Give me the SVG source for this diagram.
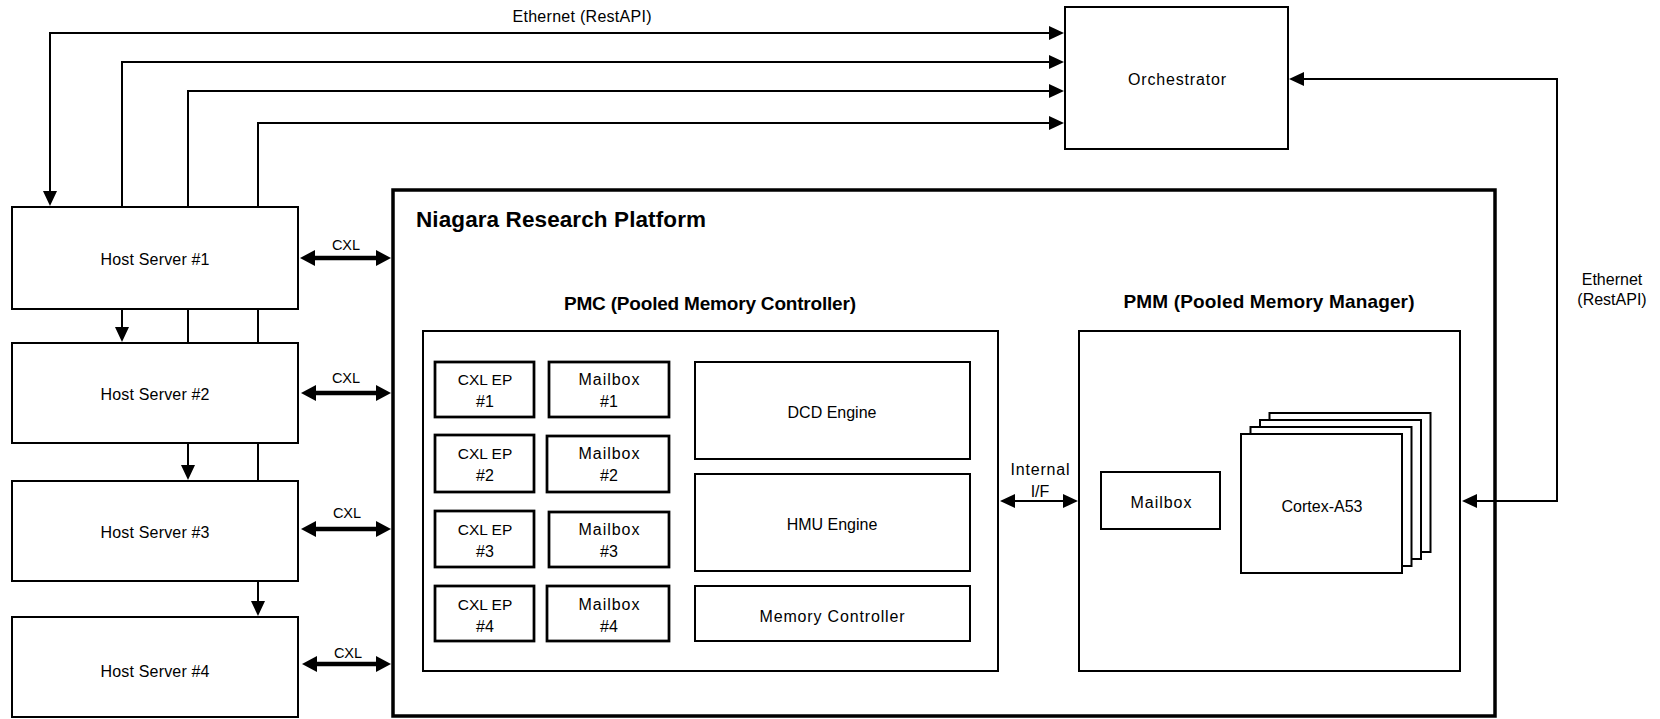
<svg xmlns="http://www.w3.org/2000/svg" width="1660" height="719" viewBox="0 0 1660 719">
  <defs>
    <style>
      .box{fill:#fff;stroke:#000;stroke-width:2}
      .sm{fill:#fff;stroke:#000;stroke-width:2.75}
      .frame{fill:none;stroke:#000;stroke-width:3.5}
      .wire{fill:none;stroke:#000;stroke-width:2;stroke-linejoin:miter}
      .cxl{fill:none;stroke:#000;stroke-width:4.5}
      text{font-family:'Liberation Sans',Arial,sans-serif;font-size:16px;fill:#000;text-anchor:middle}
      .title{font-weight:bold;font-size:22.5px;text-anchor:start}
      .sub{font-weight:bold;font-size:19px}
      .lbl{font-size:14.5px}
      .ep{font-size:15.5px}
    </style>
    <marker id="arr" markerUnits="userSpaceOnUse" markerWidth="15" markerHeight="14" refX="12" refY="7" orient="auto-start-reverse">
      <path d="M0,0 L15,7 L0,14 Z" fill="#000"/>
    </marker>
    <marker id="arrCxl" markerUnits="userSpaceOnUse" markerWidth="15" markerHeight="16" refX="5" refY="8" orient="auto-start-reverse">
      <path d="M0,0 L15,8 L0,16 Z" fill="#000"/>
    </marker>
  </defs>

  <rect width="1660" height="719" fill="#fff"/>

  <!-- platform frame -->
  <g id="niagara">
    <rect class="frame" x="393" y="190" width="1102" height="526"/>
    <text class="title" x="416" y="227" textLength="290">Niagara Research Platform</text>
  </g>

  <!-- connectors -->
  <g id="connectors">
    <path class="wire" d="M50,203 V33 H1061" marker-start="url(#arr)" marker-end="url(#arr)"/>
    <path class="wire" d="M122,339 V62 H1061" marker-start="url(#arr)" marker-end="url(#arr)"/>
    <path class="wire" d="M188,477 V91 H1061" marker-start="url(#arr)" marker-end="url(#arr)"/>
    <path class="wire" d="M258,613 V123 H1061" marker-start="url(#arr)" marker-end="url(#arr)"/>
    <path class="wire" d="M1465,501 H1557 V79 H1292" marker-start="url(#arr)" marker-end="url(#arr)"/>
    <path class="wire" d="M1003,501 H1075" marker-start="url(#arr)" marker-end="url(#arr)"/>
    <path class="cxl" d="M310,258 H381" marker-start="url(#arrCxl)" marker-end="url(#arrCxl)"/>
    <path class="cxl" d="M311,393 H381" marker-start="url(#arrCxl)" marker-end="url(#arrCxl)"/>
    <path class="cxl" d="M311,529 H381" marker-start="url(#arrCxl)" marker-end="url(#arrCxl)"/>
    <path class="cxl" d="M312,664 H381" marker-start="url(#arrCxl)" marker-end="url(#arrCxl)"/>
    <text x="582" y="22" textLength="139">Ethernet (RestAPI)</text>
    <text class="lbl" x="346" y="250">CXL</text>
    <text class="lbl" x="346" y="383">CXL</text>
    <text class="lbl" x="347" y="518">CXL</text>
    <text class="lbl" x="348" y="658">CXL</text>
    <text x="1612" y="285">Ethernet</text>
    <text x="1612" y="305">(RestAPI)</text>
    <text x="1040" y="475" textLength="59">Internal</text>
    <text x="1040" y="497">I/F</text>
  </g>

  <g id="orchestrator">
    <rect class="box" x="1065" y="7" width="223" height="142"/>
    <text x="1177" y="85" textLength="98">Orchestrator</text>
  </g>

  <g id="host1">
    <rect class="box" x="12" y="207" width="286" height="102"/>
    <text x="155" y="265" textLength="109">Host Server #1</text>
  </g>
  <g id="host2">
    <rect class="box" x="12" y="343" width="286" height="100"/>
    <text x="155" y="400" textLength="109">Host Server #2</text>
  </g>
  <g id="host3">
    <rect class="box" x="12" y="481" width="286" height="100"/>
    <text x="155" y="538" textLength="109">Host Server #3</text>
  </g>
  <g id="host4">
    <rect class="box" x="12" y="617" width="286" height="100"/>
    <text x="155" y="677" textLength="109">Host Server #4</text>
  </g>

  <!-- pooled memory controller -->
  <g id="pmc">
    <text class="sub" x="710" y="310" textLength="292">PMC (Pooled Memory Controller)</text>
    <rect class="box" x="423" y="331" width="575" height="340"/>
  </g>
  <g id="cxl-ep1">
    <rect class="sm" x="435" y="362" width="99" height="55"/>
    <text class="ep" x="485" y="385">CXL EP</text>
    <text x="485" y="407">#1</text>
  </g>
  <g id="cxl-ep2">
    <rect class="sm" x="435" y="435" width="99" height="57"/>
    <text class="ep" x="485" y="459">CXL EP</text>
    <text x="485" y="481">#2</text>
  </g>
  <g id="cxl-ep3">
    <rect class="sm" x="435" y="511" width="99" height="56"/>
    <text class="ep" x="485" y="535">CXL EP</text>
    <text x="485" y="557">#3</text>
  </g>
  <g id="cxl-ep4">
    <rect class="sm" x="435" y="586" width="99" height="55"/>
    <text class="ep" x="485" y="610">CXL EP</text>
    <text x="485" y="632">#4</text>
  </g>
  <g id="mailbox1">
    <rect class="sm" x="549" y="362" width="120" height="55"/>
    <text x="609" y="385" textLength="61">Mailbox</text>
    <text x="609" y="407">#1</text>
  </g>
  <g id="mailbox2">
    <rect class="sm" x="547" y="436" width="122" height="56"/>
    <text x="609" y="459" textLength="61">Mailbox</text>
    <text x="609" y="481">#2</text>
  </g>
  <g id="mailbox3">
    <rect class="sm" x="549" y="512" width="120" height="55"/>
    <text x="609" y="535" textLength="61">Mailbox</text>
    <text x="609" y="557">#3</text>
  </g>
  <g id="mailbox4">
    <rect class="sm" x="547" y="586" width="122" height="55"/>
    <text x="609" y="610" textLength="61">Mailbox</text>
    <text x="609" y="632">#4</text>
  </g>
  <g id="dcd-engine">
    <rect class="box" x="695" y="362" width="275" height="97"/>
    <text x="832" y="418">DCD Engine</text>
  </g>
  <g id="hmu-engine">
    <rect class="box" x="695" y="474" width="275" height="97"/>
    <text x="832" y="530">HMU Engine</text>
  </g>
  <g id="memory-controller">
    <rect class="box" x="695" y="586" width="275" height="55"/>
    <text x="832" y="622" textLength="145">Memory Controller</text>
  </g>

  <!-- pooled memory manager -->
  <g id="pmm">
    <text class="sub" x="1269" y="308" textLength="291">PMM (Pooled Memory Manager)</text>
    <rect class="box" x="1079" y="331" width="381" height="340"/>
  </g>
  <g id="pmm-mailbox">
    <rect class="box" x="1101" y="472" width="119" height="57"/>
    <text x="1161" y="508" textLength="61">Mailbox</text>
  </g>
  <g id="cortex-a53">
    <rect class="box" x="1269.5" y="413" width="161" height="139"/>
    <rect class="box" x="1260" y="420" width="161" height="139"/>
    <rect class="box" x="1250.5" y="427" width="161" height="139"/>
    <rect class="box" x="1241" y="434" width="161" height="139"/>
    <text x="1322" y="512">Cortex-A53</text>
  </g>
</svg>
